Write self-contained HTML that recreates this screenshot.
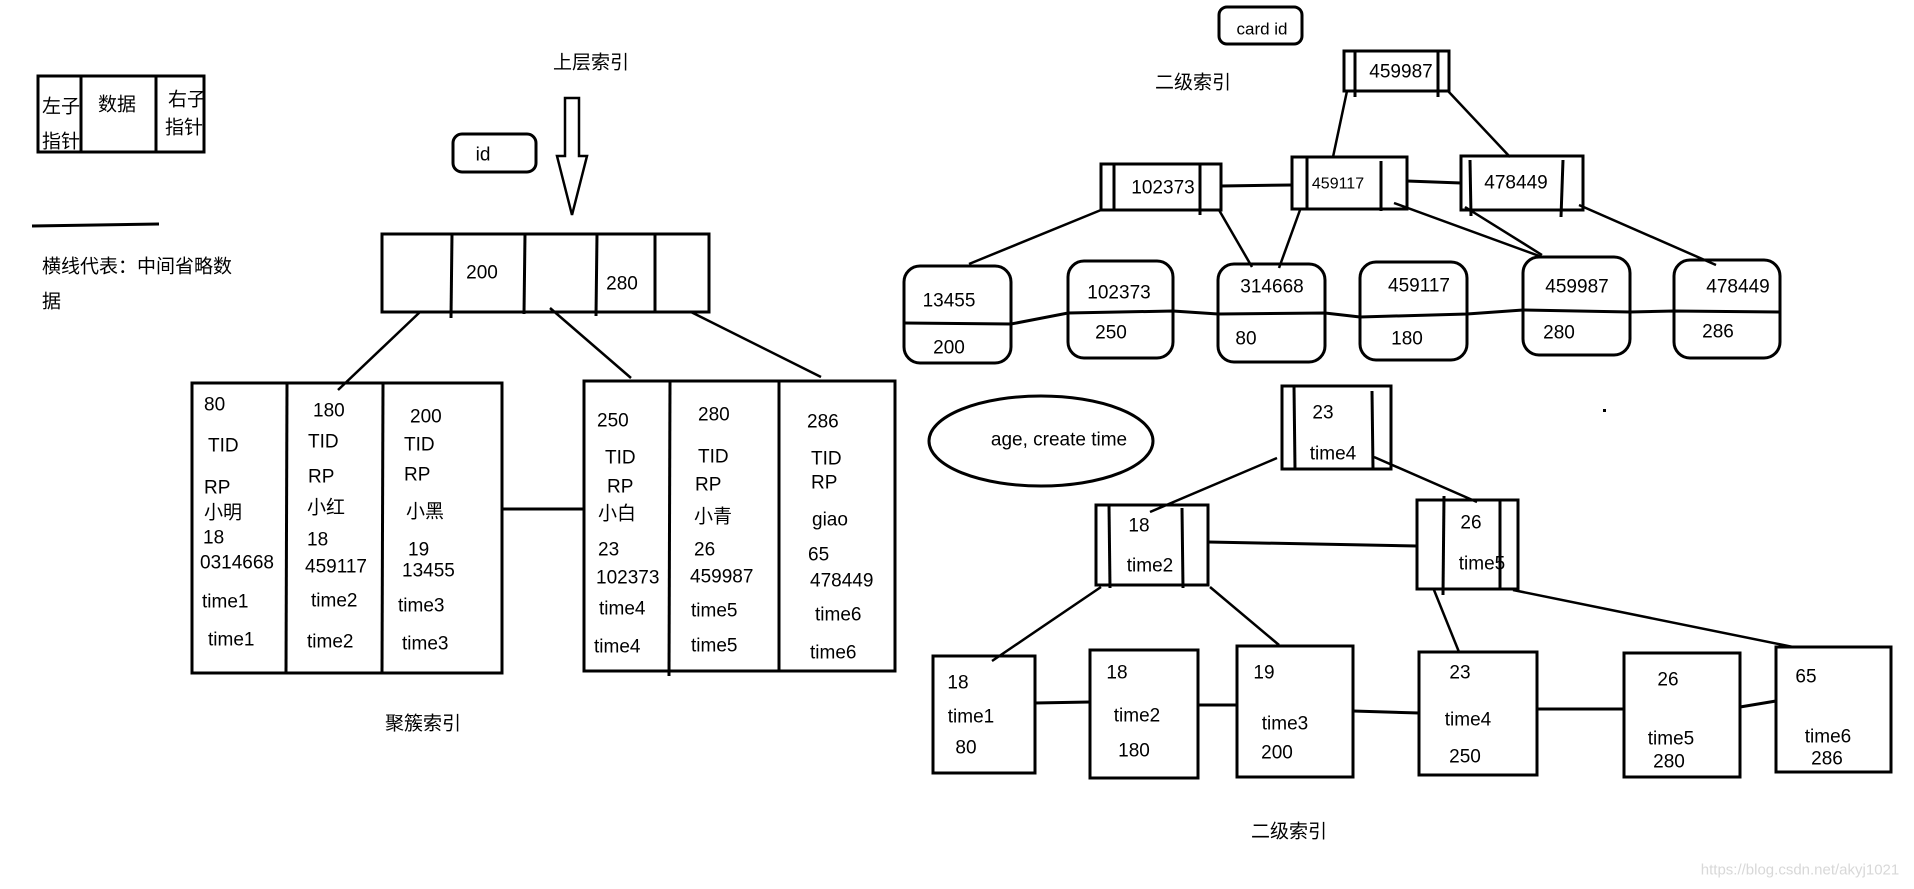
<!DOCTYPE html>
<html><head><meta charset="utf-8"><style>
html,body{margin:0;padding:0;background:#fff;}
svg{display:block;}
text{font-family:"Liberation Sans","Noto Sans CJK SC",sans-serif;font-size:19px;fill:#000;dominant-baseline:central;}
.c{text-anchor:middle;}
</style></head><body>
<svg width="1914" height="889" viewBox="0 0 1914 889" xmlns="http://www.w3.org/2000/svg">
<g fill="none" stroke="#000" stroke-width="3">
<!-- legend -->
<rect x="38" y="76" width="166" height="76"/>
<line x1="81" y1="76" x2="81" y2="152"/><line x1="156" y1="76" x2="156" y2="152"/>
<line x1="32" y1="226" x2="159" y2="224"/>
<!-- arrow -->
<path d="M565 98 L579 98 L579 156 L587 156 L572 215 L557 156 L565 156 Z" stroke-width="2.5"/>
<rect x="453" y="134" width="83" height="38" rx="9"/>
<!-- top node -->
<rect x="382" y="234" width="327" height="78"/>
<line x1="452" y1="234" x2="451" y2="318"/><line x1="525" y1="234" x2="524" y2="314"/>
<line x1="597" y1="234" x2="596" y2="316"/><line x1="655" y1="234" x2="655" y2="312"/>
<line x1="420" y1="312" x2="338" y2="390" stroke-width="2.5"/>
<line x1="550" y1="308" x2="631" y2="378" stroke-width="2.5"/>
<line x1="691" y1="312" x2="821" y2="377" stroke-width="2.5"/>
<!-- left leaf -->
<rect x="192" y="383" width="310" height="290"/>
<line x1="287" y1="383" x2="286" y2="673"/><line x1="383" y1="383" x2="382" y2="673"/>
<line x1="502" y1="509" x2="584" y2="509"/>
<!-- right leaf -->
<rect x="584" y="381" width="311" height="290"/>
<line x1="670" y1="381" x2="669" y2="676"/><line x1="779" y1="381" x2="779" y2="671"/>
<!-- card id -->
<rect x="1219" y="7" width="83" height="37" rx="8"/>
<!-- secondary tree 1 -->
<rect x="1344" y="51" width="105" height="40"/>
<line x1="1355" y1="51" x2="1355" y2="97"/><line x1="1438" y1="51" x2="1438" y2="97"/>
<rect x="1101" y="164" width="120" height="46"/>
<line x1="1114" y1="164" x2="1114" y2="210"/><line x1="1200" y1="164" x2="1200" y2="215"/>
<rect x="1292" y="157" width="115" height="52"/>
<line x1="1307" y1="157" x2="1307" y2="209"/><line x1="1381" y1="161" x2="1381" y2="211"/>
<rect x="1461" y="156" width="122" height="54"/>
<line x1="1470" y1="160" x2="1471" y2="216"/><line x1="1563" y1="160" x2="1561" y2="217"/>
<line x1="1221" y1="186" x2="1292" y2="185"/><line x1="1407" y1="181" x2="1461" y2="183"/>
<g stroke-width="2.5">
<line x1="1347" y1="91" x2="1333" y2="157"/><line x1="1448" y1="91" x2="1510" y2="157"/>
<line x1="1101" y1="210" x2="969" y2="264"/><line x1="1219" y1="210" x2="1252" y2="267"/>
<line x1="1300" y1="210" x2="1279" y2="268"/><line x1="1394" y1="203" x2="1542" y2="257"/>
<line x1="1465" y1="207" x2="1542" y2="255"/><line x1="1579" y1="205" x2="1716" y2="265"/>
</g>
<rect x="904" y="266" width="107" height="97" rx="16"/>
<rect x="1068" y="261" width="105" height="97" rx="16"/>
<rect x="1218" y="264" width="107" height="98" rx="16"/>
<rect x="1360" y="262" width="107" height="98" rx="16"/>
<rect x="1523" y="257" width="107" height="98" rx="16"/>
<rect x="1674" y="260" width="106" height="98" rx="16"/>
<polyline points="904,323 1011,324 1068,313 1173,311 1218,314 1325,313 1360,317 1467,314 1523,310 1630,312 1674,311 1780,312"/>
<!-- ellipse -->
<ellipse cx="1041" cy="441" rx="112" ry="45"/>
<!-- secondary tree 2 -->
<rect x="1282" y="386" width="109" height="83"/>
<line x1="1294" y1="386" x2="1295" y2="469"/><line x1="1372" y1="391" x2="1373" y2="469"/>
<rect x="1096" y="505" width="112" height="80"/>
<line x1="1109" y1="505" x2="1110" y2="588"/><line x1="1182" y1="508" x2="1183" y2="588"/>
<rect x="1417" y="500" width="101" height="89"/>
<line x1="1444" y1="496" x2="1443" y2="595"/><line x1="1500" y1="500" x2="1500" y2="589"/>
<line x1="1208" y1="542" x2="1417" y2="546"/>
<g stroke-width="2.5">
<line x1="1277" y1="458" x2="1150" y2="512"/><line x1="1374" y1="457" x2="1477" y2="502"/>
<line x1="1101" y1="587" x2="992" y2="661"/><line x1="1210" y1="587" x2="1279" y2="645"/>
<line x1="1434" y1="590" x2="1459" y2="652"/><line x1="1513" y1="590" x2="1793" y2="647"/>
</g>
<rect x="933" y="656" width="102" height="117"/>
<rect x="1090" y="650" width="108" height="128"/>
<rect x="1237" y="646" width="116" height="131"/>
<rect x="1419" y="652" width="118" height="123"/>
<rect x="1624" y="653" width="116" height="124"/>
<rect x="1776" y="647" width="115" height="125"/>
<line x1="1035" y1="703" x2="1090" y2="702"/><line x1="1198" y1="705" x2="1237" y2="705"/>
<line x1="1353" y1="711" x2="1419" y2="713"/><line x1="1537" y1="709" x2="1624" y2="709"/>
<line x1="1740" y1="707" x2="1776" y2="701"/>
</g>
<rect x="1603" y="409" width="3" height="3" fill="#000"/>

<!-- texts -->
<text x="42" y="107">左子</text><text x="42" y="142">指针</text>
<text x="98" y="105">数据</text>
<text x="168" y="100">右子</text><text x="165" y="128">指针</text>
<text x="42" y="267">横线代表：中间省略数</text><text x="42" y="302">据</text>
<text class="c" x="591" y="63">上层索引</text>
<text class="c" x="483" y="155">id</text>
<text class="c" x="482" y="273">200</text><text class="c" x="622" y="284">280</text>

<text x="204" y="405">80</text><text x="208" y="446">TID</text><text x="204" y="488">RP</text><text x="204" y="513">小明</text><text x="203" y="538">18</text><text x="200" y="563">0314668</text><text x="202" y="602">time1</text><text x="208" y="640">time1</text>
<text x="313" y="411">180</text><text x="308" y="442">TID</text><text x="308" y="477">RP</text><text x="307" y="508">小红</text><text x="307" y="540">18</text><text x="305" y="567">459117</text><text x="311" y="601">time2</text><text x="307" y="642">time2</text>
<text x="410" y="417">200</text><text x="404" y="445">TID</text><text x="404" y="475">RP</text><text x="406" y="512">小黑</text><text x="408" y="550">19</text><text x="402" y="571">13455</text><text x="398" y="606">time3</text><text x="402" y="644">time3</text>

<text x="597" y="421">250</text><text x="605" y="458">TID</text><text x="607" y="487">RP</text><text x="598" y="514">小白</text><text x="598" y="550">23</text><text x="596" y="578">102373</text><text x="599" y="609">time4</text><text x="594" y="647">time4</text>
<text x="698" y="415">280</text><text x="698" y="457">TID</text><text x="695" y="485">RP</text><text x="694" y="517">小青</text><text x="694" y="550">26</text><text x="690" y="577">459987</text><text x="691" y="611">time5</text><text x="691" y="646">time5</text>
<text x="807" y="422">286</text><text x="811" y="459">TID</text><text x="811" y="483">RP</text><text x="812" y="520">giao</text><text x="808" y="555">65</text><text x="810" y="581">478449</text><text x="815" y="615">time6</text><text x="810" y="653">time6</text>
<text class="c" x="423" y="724">聚簇索引</text>

<text class="c" x="1262" y="29" style="font-size:17px">card id</text>
<text class="c" x="1193" y="83">二级索引</text>
<text class="c" x="1401" y="72">459987</text>
<text class="c" x="1163" y="188">102373</text>
<text class="c" x="1338" y="184" style="font-size:16px">459117</text>
<text class="c" x="1516" y="183">478449</text>
<text class="c" x="949" y="301">13455</text><text class="c" x="949" y="348">200</text>
<text class="c" x="1119" y="293">102373</text><text class="c" x="1111" y="333">250</text>
<text class="c" x="1272" y="287">314668</text><text class="c" x="1246" y="339">80</text>
<text class="c" x="1419" y="286">459117</text><text class="c" x="1407" y="339">180</text>
<text class="c" x="1577" y="287">459987</text><text class="c" x="1559" y="333">280</text>
<text class="c" x="1738" y="287">478449</text><text class="c" x="1718" y="332">286</text>

<text class="c" x="1059" y="440">age, create  time</text>
<text class="c" x="1323" y="413">23</text><text class="c" x="1333" y="454">time4</text>
<text class="c" x="1139" y="526">18</text><text class="c" x="1150" y="566">time2</text>
<text class="c" x="1471" y="523">26</text><text class="c" x="1482" y="564">time5</text>
<text class="c" x="958" y="683">18</text><text class="c" x="971" y="717">time1</text><text class="c" x="966" y="748">80</text>
<text class="c" x="1117" y="673">18</text><text class="c" x="1137" y="716">time2</text><text class="c" x="1134" y="751">180</text>
<text class="c" x="1264" y="673">19</text><text class="c" x="1285" y="724">time3</text><text class="c" x="1277" y="753">200</text>
<text class="c" x="1460" y="673">23</text><text class="c" x="1468" y="720">time4</text><text class="c" x="1465" y="757">250</text>
<text class="c" x="1668" y="680">26</text><text class="c" x="1671" y="739">time5</text><text class="c" x="1669" y="762">280</text>
<text class="c" x="1806" y="677">65</text><text class="c" x="1828" y="737">time6</text><text class="c" x="1827" y="759">286</text>
<text class="c" x="1289" y="832">二级索引</text>
<text class="c" x="1800" y="870" style="font-size:15px;fill:#d8d8d8">https://blog.csdn.net/akyj1021</text>
</svg>
</body></html>
